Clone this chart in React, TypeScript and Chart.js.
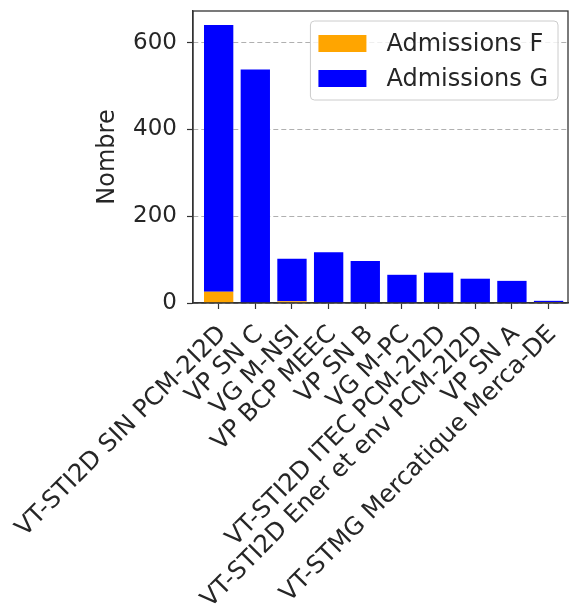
import React, { useEffect, useRef } from 'react';
import { Chart, registerables } from 'chart.js';

Chart.register(...registerables);

const categories = [
  'VT-STI2D SIN PCM-2I2D',
  'VP SN C',
  'VG M-NSI',
  'VP BCP MEEC',
  'VP SN B',
  'VG M-PC',
  'VT-STI2D ITEC PCM-2I2D',
  'VT-STI2D Ener et env PCM-2I2D',
  'VP SN A',
  'VT-STMG Mercatique Merca-DE',
];
const admissionsF = [26, 0, 4, 0, 0, 0, 0, 0, 0, 2];
const admissionsG = [615, 538, 98, 117, 97, 65, 70, 56, 51, 3];
const yTicks = [0, 200, 400, 600];
const seriesLabels = ['Admissions F', 'Admissions G'];
const seriesColors = ['#FFA500', '#0000FF'];
const yTitle = 'Nombre';

const FAMILY = "'DejaVu Sans', sans-serif";
const FSIZE = 23;
const XFSIZE = 24.5;
const LEGEND_FSIZE = 24;
const TEXT = '#262626';

export default function App() {
  const ref = useRef<HTMLCanvasElement | null>(null);

  useEffect(() => {
    const canvas = ref.current;
    if (!canvas) return;

    const frame = {
      id: 'frame',
      afterDatasetsDraw(chart: any) {
        const { ctx, chartArea } = chart;
        const { left, top, right, bottom } = chartArea;
        ctx.save();
        ctx.strokeStyle = '#333333';
        ctx.lineWidth = 1.3;
        ctx.strokeRect(left, top, right - left, bottom - top);
        ctx.restore();
      },
    };

    const legendBox = {
      id: 'legendBox',
      afterDraw(chart: any) {
        const { ctx, chartArea } = chart;
        const ds = chart.data.datasets;
        ctx.save();
        ctx.font = `${LEGEND_FSIZE}px ${FAMILY}`;
        let tw = 0;
        ds.forEach((d: any) => {
          tw = Math.max(tw, ctx.measureText(d.label).width);
        });
        const padL = 8;
        const patchW = 48;
        const patchH = 17;
        const gap = 20;
        const padR = 10;
        const rowH = 35;
        const w = padL + patchW + gap + tw + padR;
        const h = 79;
        const x = chartArea.right - 10 - w;
        const y = chartArea.top + 10;
        const r = 4;
        ctx.beginPath();
        ctx.moveTo(x + r, y);
        ctx.lineTo(x + w - r, y);
        ctx.quadraticCurveTo(x + w, y, x + w, y + r);
        ctx.lineTo(x + w, y + h - r);
        ctx.quadraticCurveTo(x + w, y + h, x + w - r, y + h);
        ctx.lineTo(x + r, y + h);
        ctx.quadraticCurveTo(x, y + h, x, y + h - r);
        ctx.lineTo(x, y + r);
        ctx.quadraticCurveTo(x, y, x + r, y);
        ctx.closePath();
        ctx.fillStyle = 'rgba(255,255,255,0.8)';
        ctx.fill();
        ctx.strokeStyle = '#cccccc';
        ctx.lineWidth = 1;
        ctx.stroke();
        ds.forEach((d: any, i: number) => {
          const cy = y + 22.5 + i * rowH;
          ctx.fillStyle = d.backgroundColor;
          ctx.fillRect(x + padL, cy - patchH / 2, patchW, patchH);
          ctx.fillStyle = TEXT;
          ctx.textAlign = 'left';
          ctx.textBaseline = 'middle';
          ctx.fillText(d.label, x + padL + patchW + gap, cy + 1);
        });
        ctx.restore();
      },
    };

    const chart = new Chart(canvas, {
      type: 'bar',
      data: {
        datasets: [
          {
            label: seriesLabels[0],
            data: categories.map((_, i) => ({ x: i, y: admissionsF[i] })),
            backgroundColor: seriesColors[0],
          },
          {
            label: seriesLabels[1],
            data: categories.map((_, i) => ({ x: i, y: admissionsG[i] })),
            backgroundColor: seriesColors[1],
          },
        ],
      },
      options: {
        animation: false,
        responsive: false,
        devicePixelRatio: 1,
        layout: { padding: { top: 11, right: 1, left: 0, bottom: 0 } },
        plugins: {
          legend: { display: false },
          tooltip: { enabled: false },
        },
        datasets: {
          bar: { barPercentage: 0.8, categoryPercentage: 1 },
        },
        scales: {
          x: {
            type: 'linear',
            stacked: true,
            offset: false,
            min: -0.7,
            max: 9.53,
            afterBuildTicks: (s: any) => {
              s.ticks = categories.map((_, i) => ({ value: i }));
            },
            afterFit: (s: any) => {
              s.height = 302;
              s.paddingLeft = 0;
              s.paddingRight = 0;
            },
            ticks: {
              callback: (v: any) => categories[Math.round(Number(v))],
              autoSkip: false,
              minRotation: 45,
              maxRotation: 45,
              font: { family: FAMILY, size: XFSIZE },
              color: TEXT,
              padding: 11,
              labelOffset: 4,
            },
            grid: {
              offset: false,
              drawOnChartArea: false,
              drawTicks: true,
              tickLength: 6,
              tickColor: '#333333',
              tickWidth: 1.2,
            },
            border: { display: true, color: '#333333', width: 1.3 },
          },
          y: {
            type: 'linear',
            stacked: true,
            min: 0,
            max: 673,
            afterBuildTicks: (s: any) => {
              s.ticks = yTicks.map((v) => ({ value: v }));
            },
            afterFit: (s: any) => {
              s.width = 193;
              s.paddingTop = 0;
              s.paddingBottom = 0;
            },
            ticks: {
              font: { family: FAMILY, size: FSIZE },
              color: TEXT,
              padding: 10,
            },
            grid: {
              color: '#b0b0b0',
              lineWidth: 1,
              drawTicks: true,
              tickLength: 6,
              tickColor: '#333333',
              tickWidth: 1.2,
              tickBorderDash: [],
            },
            border: { display: true, color: '#333333', width: 1.3, dash: [5, 3] },
            title: {
              display: true,
              text: yTitle,
              font: { family: FAMILY, size: 24 },
              color: TEXT,
              padding: { top: 93, bottom: 0 },
            },
          },
        },
      } as any,
      plugins: [frame, legendBox],
    });

    return () => {
      chart.destroy();
    };
  }, []);

  return (
    <div style={{ position: 'absolute', left: 0, top: 0, width: 569, height: 605, background: '#ffffff' }}>
      <canvas ref={ref} width={569} height={605} style={{ display: 'block' }} />
    </div>
  );
}
